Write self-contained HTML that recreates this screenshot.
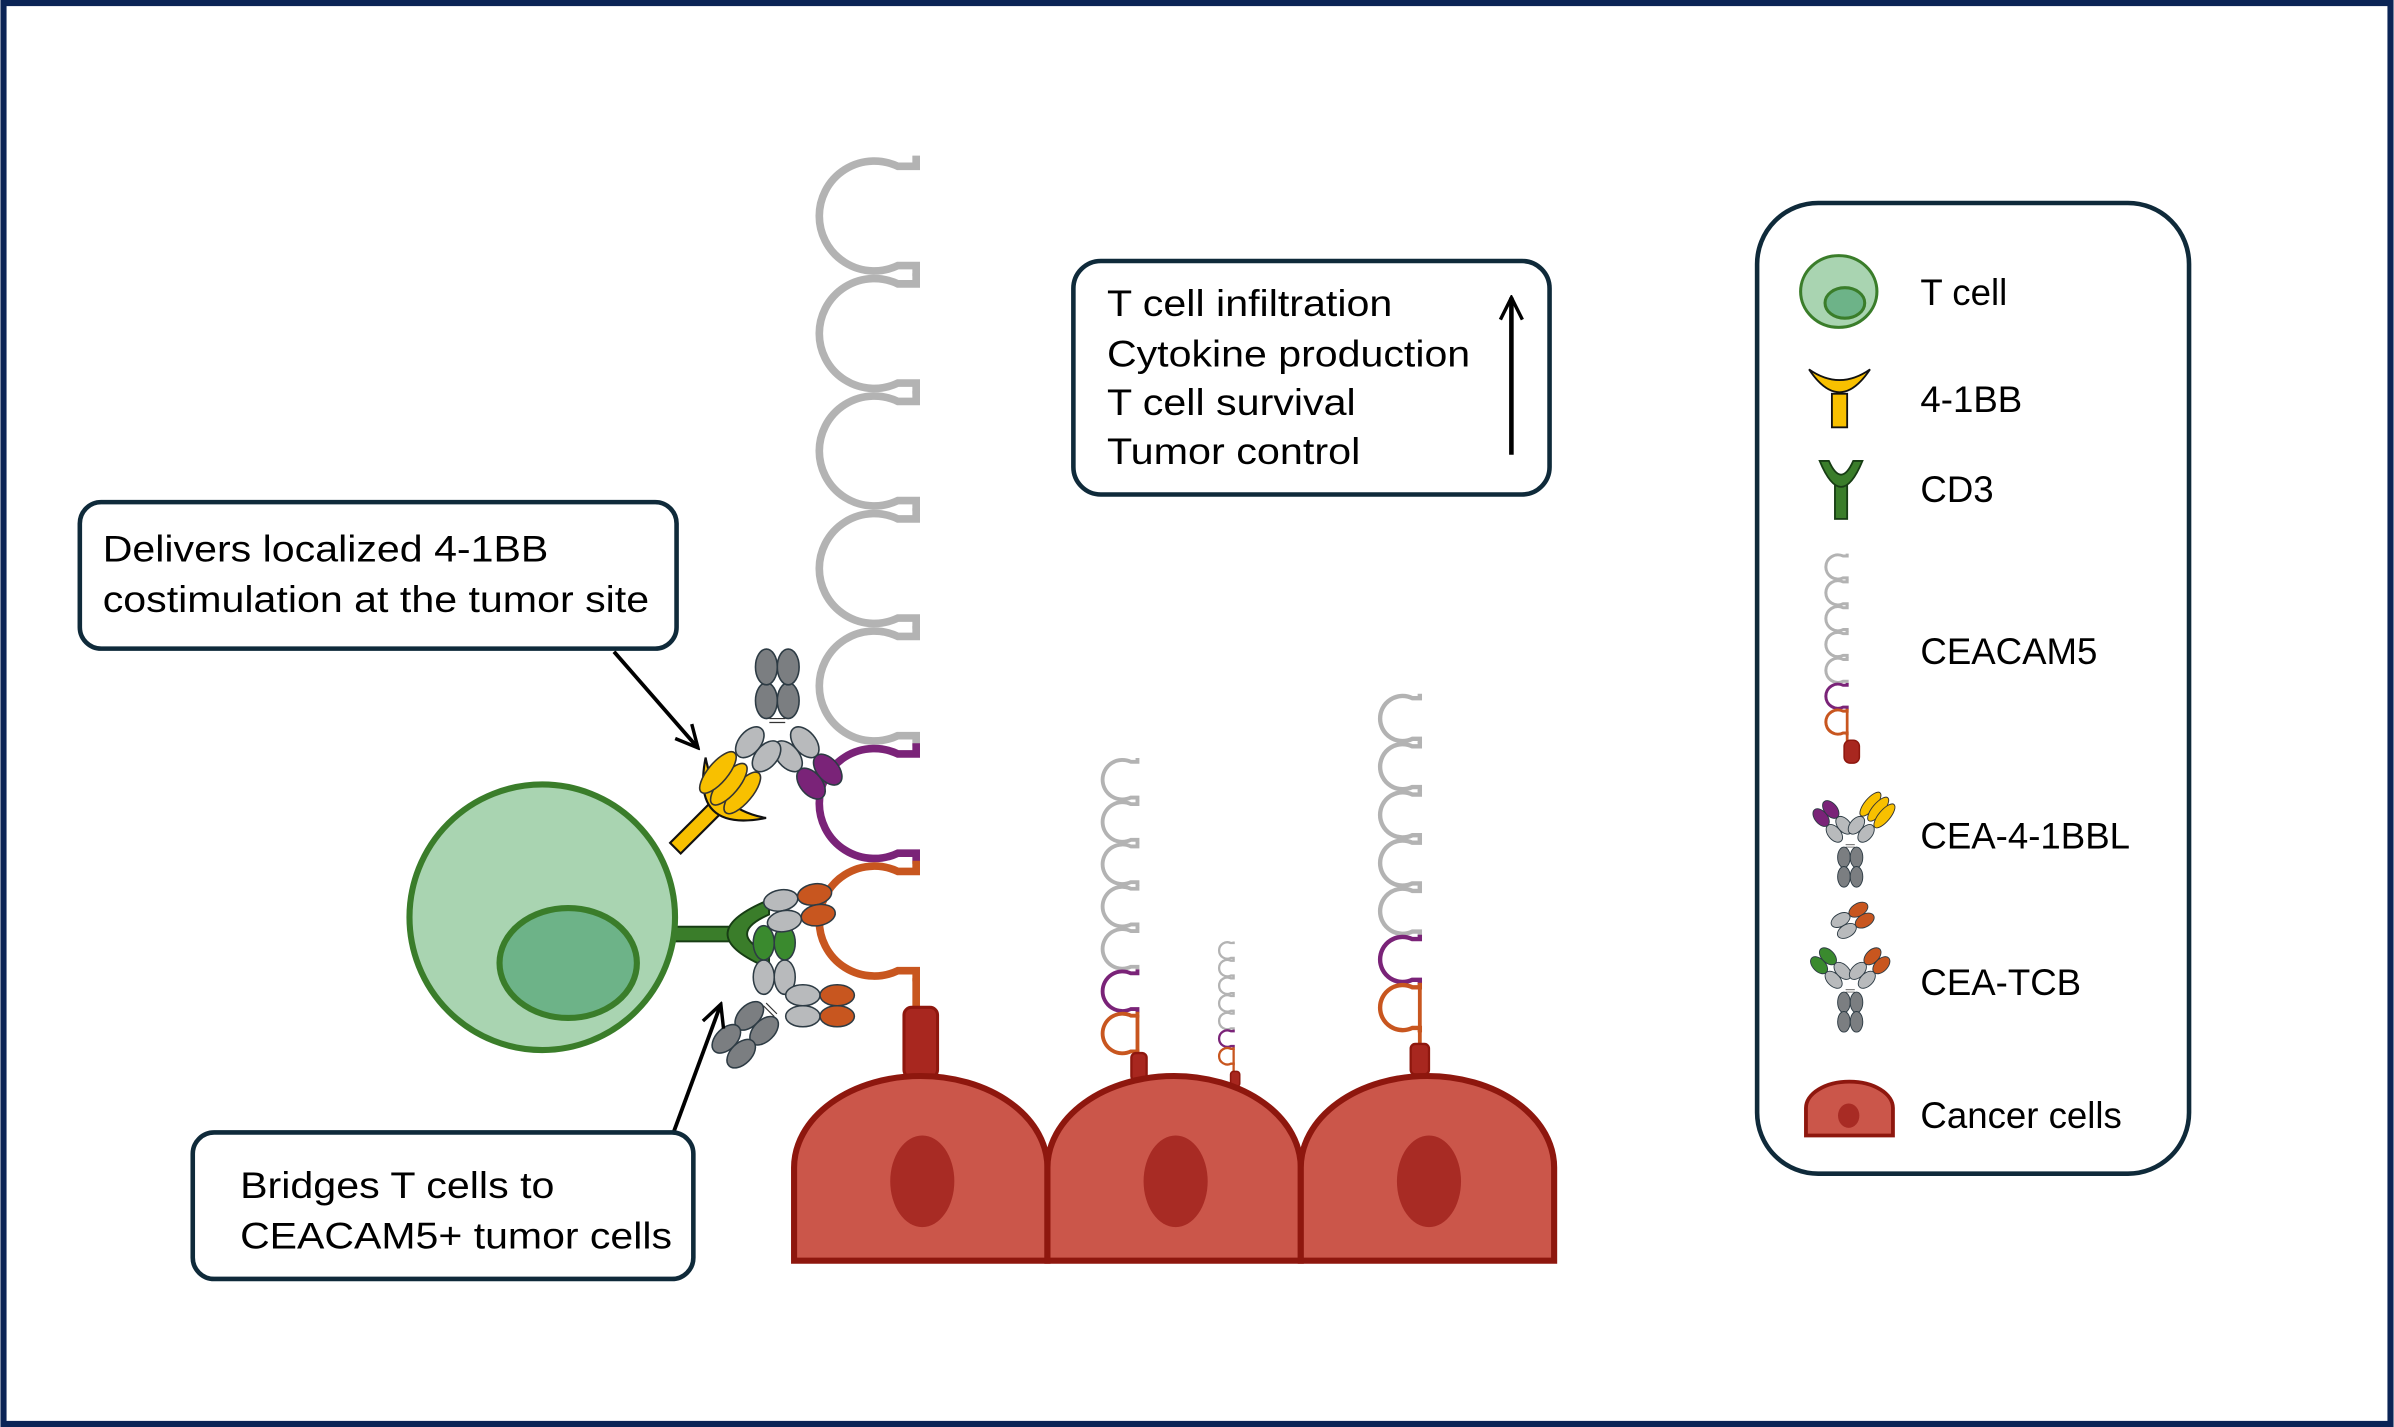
<!DOCTYPE html>
<html><head><meta charset="utf-8"><style>html,body{margin:0;padding:0;background:#fff}svg{display:block}text{font-family:"Liberation Sans",Arial,sans-serif;fill:#000}</style></head>
<body>
<svg width="2394" height="1427" viewBox="0 0 1568 935" xmlns="http://www.w3.org/2000/svg">
<defs>
  <g id="loop" fill="none">
    <path d="M0,-1 L0,6 L-12,6 A36,36 0 1 0 -12,71 L0,71 L0,78"/>
  </g>
  <g id="chain">
    <use href="#loop" y="0" stroke="#b3b3b3"/>
    <use href="#loop" y="77" stroke="#b3b3b3"/>
    <use href="#loop" y="154" stroke="#b3b3b3"/>
    <use href="#loop" y="231" stroke="#b3b3b3"/>
    <use href="#loop" y="308" stroke="#b3b3b3"/>
    <use href="#loop" y="385" stroke="#7a2378"/>
    <use href="#loop" y="462" stroke="#c8561f"/>
  </g>
  <g id="fab" stroke="#2d3b44" stroke-width="0.8">
    <ellipse cx="-5.5" cy="-15" rx="5.5" ry="9" fill="#b8babc"/>
    <ellipse cx="5.5" cy="-15" rx="5.5" ry="9" fill="#b8babc"/>
  </g>
  <g id="fc" stroke="#2d3b44" stroke-width="0.8" fill="#7b7e81">
    <ellipse cx="-5.5" cy="13" rx="5.5" ry="9"/><ellipse cx="5.5" cy="13" rx="5.5" ry="9"/>
    <ellipse cx="-5.5" cy="30" rx="5.5" ry="9"/><ellipse cx="5.5" cy="30" rx="5.5" ry="9"/>
  </g>
  <g id="ab41bbl">
    <use href="#fc"/>
    <path d="M-4,2 H4 M-4,4 H4" stroke="#333" stroke-width="0.6"/>
    <g transform="rotate(-40)"><use href="#fab"/>
      <ellipse cx="-5.5" cy="-33" rx="5.5" ry="9" fill="#7a2378" stroke="#2d3b44" stroke-width="0.8"/>
      <ellipse cx="5.5" cy="-33" rx="5.5" ry="9" fill="#7a2378" stroke="#2d3b44" stroke-width="0.8"/></g>
    <g transform="rotate(40)"><use href="#fab"/>
      <ellipse cx="-8" cy="-37" rx="5" ry="13" fill="#f8c000" stroke="#333" stroke-width="0.8"/>
      <ellipse cx="0" cy="-38" rx="5" ry="13" fill="#f8c000" stroke="#333" stroke-width="0.8"/>
      <ellipse cx="8" cy="-37" rx="5" ry="13" fill="#f8c000" stroke="#333" stroke-width="0.8"/></g>
  </g>
  <g id="abtcb">
    <use href="#fc"/>
    <path d="M-4,2 H4 M-4,4 H4" stroke="#333" stroke-width="0.6"/>
    <g transform="rotate(-45)"><use href="#fab"/>
      <ellipse cx="-5.5" cy="-33" rx="5.5" ry="9" fill="#3a8a2e" stroke="#2d3b44" stroke-width="0.8"/>
      <ellipse cx="5.5" cy="-33" rx="5.5" ry="9" fill="#3a8a2e" stroke="#2d3b44" stroke-width="0.8"/></g>
    <g transform="rotate(45)"><use href="#fab"/>
      <ellipse cx="-5.5" cy="-33" rx="5.5" ry="9" fill="#c8561f" stroke="#2d3b44" stroke-width="0.8"/>
      <ellipse cx="5.5" cy="-33" rx="5.5" ry="9" fill="#c8561f" stroke="#2d3b44" stroke-width="0.8"/></g>
  </g>
  <g id="xfab">
    <use href="#fab"/>
    <ellipse cx="-5.5" cy="-33" rx="5.5" ry="9" fill="#c8561f" stroke="#2d3b44" stroke-width="0.8"/>
    <ellipse cx="5.5" cy="-33" rx="5.5" ry="9" fill="#c8561f" stroke="#2d3b44" stroke-width="0.8"/>
  </g>
  <g id="cancer">
    <path d="M0,121 V60 A83,60 0 0 1 166,60 V121 Z" fill="#cb564a" stroke="#8e170e" stroke-width="4"/>
    <ellipse cx="84" cy="69" rx="21" ry="30" fill="#a82b24"/>
  </g>
  <g id="bb41">
    <rect x="-5" y="0" width="10" height="22" fill="#f8c000" stroke="#111" stroke-width="1.2"/>
    <path d="M-20,-16 Q0,14 20,-16 Q0,-2 -20,-16 Z" fill="#f8c000" stroke="#111" stroke-width="1.2"/>
  </g>
  <g id="cd3">
    <rect x="-4" y="0" width="8" height="22" fill="#3a7d2a" stroke="#173d14" stroke-width="1.2"/>
    <path d="M-14,-16 L-8,-16 Q0,2 8,-16 L14,-16 Q0,18 -14,-16 Z" fill="#3a7d2a" stroke="#173d14" stroke-width="1.2"/>
  </g>
  <marker id="ah" viewBox="0 0 20 20" refX="18" refY="10" markerWidth="18" markerHeight="18" orient="auto" markerUnits="userSpaceOnUse">
    <path d="M2,2 L18,10 L2,18" fill="none" stroke="#000" stroke-width="2.5"/>
  </marker>
</defs>

<rect x="2" y="2" width="1564" height="931" fill="#fff" stroke="#0b2456" stroke-width="4"/>

<!-- big CEACAM5 -->
<g transform="translate(600,103)" stroke-width="5"><use href="#chain"/></g>
<path d="M600,641 V662" stroke="#c8561f" stroke-width="5"/>
<rect x="592" y="660" width="22" height="46" rx="5" fill="#a8271f" stroke="#8e170e" stroke-width="2"/>

<!-- small chains -->
<g transform="translate(745,497) scale(0.36)" stroke-width="7"><use href="#chain"/></g>
<path d="M745,665 V693" stroke="#c8561f" stroke-width="2.5"/>
<rect x="741" y="690" width="10" height="18" rx="3" fill="#a8271f" stroke="#8e170e" stroke-width="1.5"/>
<g transform="translate(808,617) scale(0.15)" stroke-width="10"><use href="#chain"/></g>
<path d="M808,687 V704" stroke="#c8561f" stroke-width="1.5"/>
<rect x="806" y="702" width="6" height="10" rx="2" fill="#a8271f" stroke="#8e170e" stroke-width="1"/>
<g transform="translate(930,455) scale(0.41)" stroke-width="7"><use href="#chain"/></g>
<path d="M930,644 V686" stroke="#c8561f" stroke-width="2.5"/>
<rect x="924" y="684" width="12" height="20" rx="3" fill="#a8271f" stroke="#8e170e" stroke-width="1.5"/>

<!-- cancer cells -->
<use href="#cancer" x="520" y="705"/>
<use href="#cancer" x="686" y="705"/>
<use href="#cancer" x="852" y="705"/>

<!-- T cell receptors -->
<g transform="translate(466,532) rotate(45) scale(1.4)">
  <rect x="-3.5" y="-2" width="7" height="26" fill="#f8c000" stroke="#111" stroke-width="1"/>
  <path d="M-20,-16 Q0,14 20,-16 Q0,-2 -20,-16 Z" fill="#f8c000" stroke="#111" stroke-width="1"/>
</g>
<g transform="translate(478,612) rotate(90) scale(1.6)">
  <rect x="-3" y="0" width="6" height="24" fill="#3a7d2a" stroke="#173d14" stroke-width="0.8"/>
  <path d="M-14,-16 L-8,-16 Q0,2 8,-16 L14,-16 Q0,18 -14,-16 Z" fill="#3a7d2a" stroke="#173d14" stroke-width="0.8"/>
</g>
<circle cx="355" cy="601" r="87" fill="#a9d4b1" stroke="#3a7d2a" stroke-width="4"/>
<ellipse cx="372" cy="631" rx="45" ry="36" fill="#6db388" stroke="#3a7d2a" stroke-width="4"/>

<!-- antibodies -->
<g transform="translate(509,476) rotate(180) scale(1.3)"><use href="#ab41bbl"/></g>
<g transform="translate(507,659) rotate(45) scale(1.25)"><use href="#abtcb"/></g>
<g transform="translate(494,600) rotate(80) scale(1.25)"><use href="#xfab"/></g>

<!-- arrows -->
<line x1="402" y1="427" x2="457" y2="490" stroke="#000" stroke-width="2.5" marker-end="url(#ah)"/>
<line x1="441" y1="742" x2="472" y2="658" stroke="#000" stroke-width="2.5" marker-end="url(#ah)"/>

<!-- boxes -->
<rect x="52" y="329" width="391" height="96" rx="14" fill="#fff" stroke="#0f2a3a" stroke-width="3"/>
<text x="67" y="368" font-size="24" textLength="292" lengthAdjust="spacingAndGlyphs">Delivers localized 4-1BB</text>
<text x="67" y="401" font-size="24" textLength="358" lengthAdjust="spacingAndGlyphs">costimulation at the tumor site</text>

<rect x="126" y="742" width="328" height="96" rx="14" fill="#fff" stroke="#0f2a3a" stroke-width="3"/>
<text x="157" y="785" font-size="24" textLength="206" lengthAdjust="spacingAndGlyphs">Bridges T cells to</text>
<text x="157" y="818" font-size="24" textLength="283" lengthAdjust="spacingAndGlyphs">CEACAM5+ tumor cells</text>

<rect x="703" y="171" width="312" height="153" rx="18" fill="#fff" stroke="#0f2a3a" stroke-width="3"/>
<text x="725" y="207" font-size="24" textLength="187" lengthAdjust="spacingAndGlyphs">T cell infiltration</text>
<text x="725" y="240" font-size="24" textLength="238" lengthAdjust="spacingAndGlyphs">Cytokine production</text>
<text x="725" y="272" font-size="24" textLength="163" lengthAdjust="spacingAndGlyphs">T cell survival</text>
<text x="725" y="304" font-size="24" textLength="166" lengthAdjust="spacingAndGlyphs">Tumor control</text>
<line x1="990" y1="298" x2="990" y2="195" stroke="#000" stroke-width="3" marker-end="url(#ah)"/>

<!-- legend -->
<rect x="1151" y="133" width="283" height="636" rx="40" fill="#fff" stroke="#0f2a3a" stroke-width="3"/>
<ellipse cx="1204.5" cy="191" rx="25" ry="23.5" fill="#a9d4b1" stroke="#3a7d2a" stroke-width="2"/>
<ellipse cx="1208.5" cy="198.5" rx="13" ry="10" fill="#6db388" stroke="#3a7d2a" stroke-width="2"/>
<g transform="translate(1205,258)"><use href="#bb41"/></g>
<g transform="translate(1206,318)"><use href="#cd3"/></g>
<g transform="translate(1210,363) scale(0.22)" stroke-width="9"><use href="#chain"/></g>
<path d="M1210,465 V487" stroke="#c8561f" stroke-width="1.8"/>
<rect x="1208" y="485" width="10" height="15" rx="4" fill="#a8271f" stroke="#8e170e" stroke-width="1"/>
<g transform="translate(1212,552) scale(0.75)"><use href="#ab41bbl"/></g>
<g transform="translate(1212,647) scale(0.75)"><use href="#abtcb"/></g>
<g transform="translate(1198,612) rotate(60) scale(0.75)"><use href="#xfab"/></g>
<path d="M1183,744 V726 A28,17 0 0 1 1240,726 V744 Z" fill="#cb564a" stroke="#8e170e" stroke-width="2.5"/>
<ellipse cx="1211" cy="731" rx="7" ry="8" fill="#a82b24"/>

<text x="1258" y="200" font-size="24">T cell</text>
<text x="1258" y="270" font-size="24">4-1BB</text>
<text x="1258" y="329" font-size="24">CD3</text>
<text x="1258" y="435" font-size="24">CEACAM5</text>
<text x="1258" y="556" font-size="24">CEA-4-1BBL</text>
<text x="1258" y="652" font-size="24">CEA-TCB</text>
<text x="1258" y="739" font-size="24">Cancer cells</text>
</svg>
</body></html>
